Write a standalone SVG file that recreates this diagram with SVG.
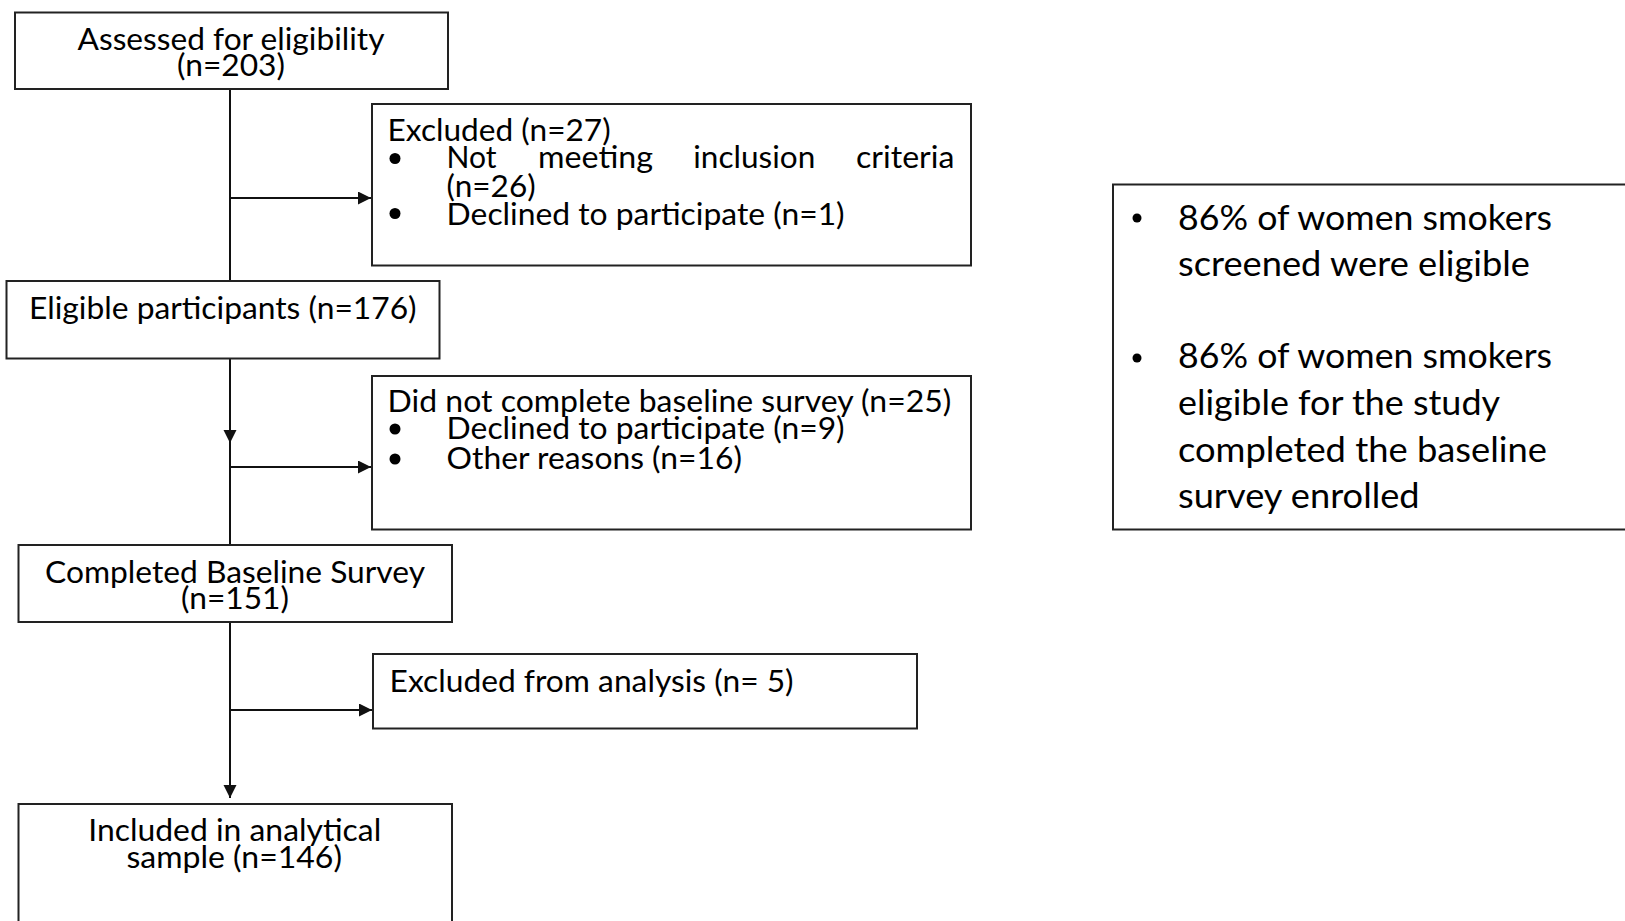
<svg xmlns="http://www.w3.org/2000/svg" width="1625" height="921" viewBox="0 0 1625 921">
<style>
  .box { fill: #ffffff; stroke: #222222; stroke-width: 2; }
  .t { font-family: Lato, "Noto Sans", "Liberation Sans", sans-serif; font-size: 30px; fill: #000000; }
  .tc { text-anchor: middle; }
  .big { font-size: 34px; }
  .conn { stroke: #111111; stroke-width: 2; fill: none; }
  .dot { fill: #000000; }
</style>
<defs>
  <marker id="arr" markerUnits="userSpaceOnUse" markerWidth="14" markerHeight="14" refX="13" refY="6.5" orient="auto">
    <path d="M0,0 L13,6.5 L0,13 Z" fill="#111111"/>
  </marker>
</defs>
<rect x="0" y="0" width="1625" height="921" fill="#ffffff"/>

<g id="connectors">
  <line class="conn" x1="230" y1="89" x2="230" y2="281"/>
  <line class="conn" x1="230" y1="198" x2="371" y2="198" marker-end="url(#arr)"/>
  <line class="conn" x1="230" y1="358" x2="230" y2="443" marker-end="url(#arr)"/>
  <line class="conn" x1="230" y1="443" x2="230" y2="545"/>
  <line class="conn" x1="230" y1="467" x2="371" y2="467" marker-end="url(#arr)"/>
  <line class="conn" x1="230" y1="622" x2="230" y2="798" marker-end="url(#arr)"/>
  <line class="conn" x1="230" y1="710" x2="372" y2="710" marker-end="url(#arr)"/>
</g>

<g id="assessed">
  <rect class="box" x="15" y="12.5" width="433" height="76.5"/>
  <text class="t tc" x="231" y="49.5" textLength="307" lengthAdjust="spacingAndGlyphs">Assessed for eligibility</text>
  <text class="t tc" x="231" y="76" textLength="108" lengthAdjust="spacingAndGlyphs">(n=203)</text>
</g>

<g id="excluded">
  <rect class="box" x="372" y="104" width="599" height="161.5"/>
  <text class="t" x="387.6" y="140.5" textLength="223" lengthAdjust="spacingAndGlyphs">Excluded (n=27)</text>
  <circle class="dot" cx="395" cy="158.5" r="5.5"/>
  <text class="t" x="446.6" y="168" textLength="50" lengthAdjust="spacingAndGlyphs">Not</text>
  <text class="t" x="538" y="168" textLength="115" lengthAdjust="spacingAndGlyphs">meeting</text>
  <text class="t" x="693.3" y="168" textLength="122" lengthAdjust="spacingAndGlyphs">inclusion</text>
  <text class="t" x="856" y="168" textLength="98.4" lengthAdjust="spacingAndGlyphs">criteria</text>
  <text class="t" x="446.6" y="197" textLength="89" lengthAdjust="spacingAndGlyphs">(n=26)</text>
  <circle class="dot" cx="395" cy="213.5" r="5.5"/>
  <text class="t" x="446.6" y="224.5" textLength="398" lengthAdjust="spacingAndGlyphs">Declined to participate (n=1)</text>
</g>

<g id="eligible">
  <rect class="box" x="6.5" y="281" width="433" height="77.5"/>
  <text class="t" x="29" y="318.5" textLength="387.6" lengthAdjust="spacingAndGlyphs">Eligible participants (n=176)</text>
</g>

<g id="not-completed">
  <rect class="box" x="372" y="376" width="599" height="153.5"/>
  <text class="t" x="387.6" y="412" textLength="563.7" lengthAdjust="spacingAndGlyphs">Did not complete baseline survey (n=25)</text>
  <circle class="dot" cx="395" cy="429" r="5.5"/>
  <text class="t" x="446.6" y="439" textLength="398" lengthAdjust="spacingAndGlyphs">Declined to participate (n=9)</text>
  <circle class="dot" cx="395" cy="459" r="5.5"/>
  <text class="t" x="446.6" y="469" textLength="295.4" lengthAdjust="spacingAndGlyphs">Other reasons (n=16)</text>
</g>

<g id="completed">
  <rect class="box" x="18.5" y="545" width="433.5" height="77"/>
  <text class="t tc" x="235" y="583" textLength="380" lengthAdjust="spacingAndGlyphs">Completed Baseline Survey</text>
  <text class="t tc" x="235" y="609" textLength="108" lengthAdjust="spacingAndGlyphs">(n=151)</text>
</g>

<g id="excluded-analysis">
  <rect class="box" x="373" y="654" width="544" height="74.5"/>
  <text class="t" x="389.6" y="692" textLength="404" lengthAdjust="spacingAndGlyphs">Excluded from analysis (n= 5)</text>
</g>

<g id="included">
  <rect class="box" x="18.5" y="804" width="433.5" height="140"/>
  <text class="t tc" x="234.7" y="841" textLength="293" lengthAdjust="spacingAndGlyphs">Included in analytical</text>
  <text class="t tc" x="234.2" y="868" textLength="215.6" lengthAdjust="spacingAndGlyphs">sample (n=146)</text>
</g>

<g id="summary">
  <rect class="box" x="1113" y="184.5" width="530" height="345"/>
  <circle class="dot" cx="1137" cy="218" r="4.5"/>
  <text class="t big" x="1178" y="230" textLength="374" lengthAdjust="spacingAndGlyphs">86% of women smokers</text>
  <text class="t big" x="1178" y="276" textLength="352" lengthAdjust="spacingAndGlyphs">screened were eligible</text>
  <circle class="dot" cx="1137" cy="358" r="4.5"/>
  <text class="t big" x="1178" y="368" textLength="374" lengthAdjust="spacingAndGlyphs">86% of women smokers</text>
  <text class="t big" x="1178" y="415" textLength="322" lengthAdjust="spacingAndGlyphs">eligible for the study</text>
  <text class="t big" x="1178" y="462" textLength="369" lengthAdjust="spacingAndGlyphs">completed the baseline</text>
  <text class="t big" x="1178" y="508" textLength="241.6" lengthAdjust="spacingAndGlyphs">survey enrolled</text>
</g>
</svg>
